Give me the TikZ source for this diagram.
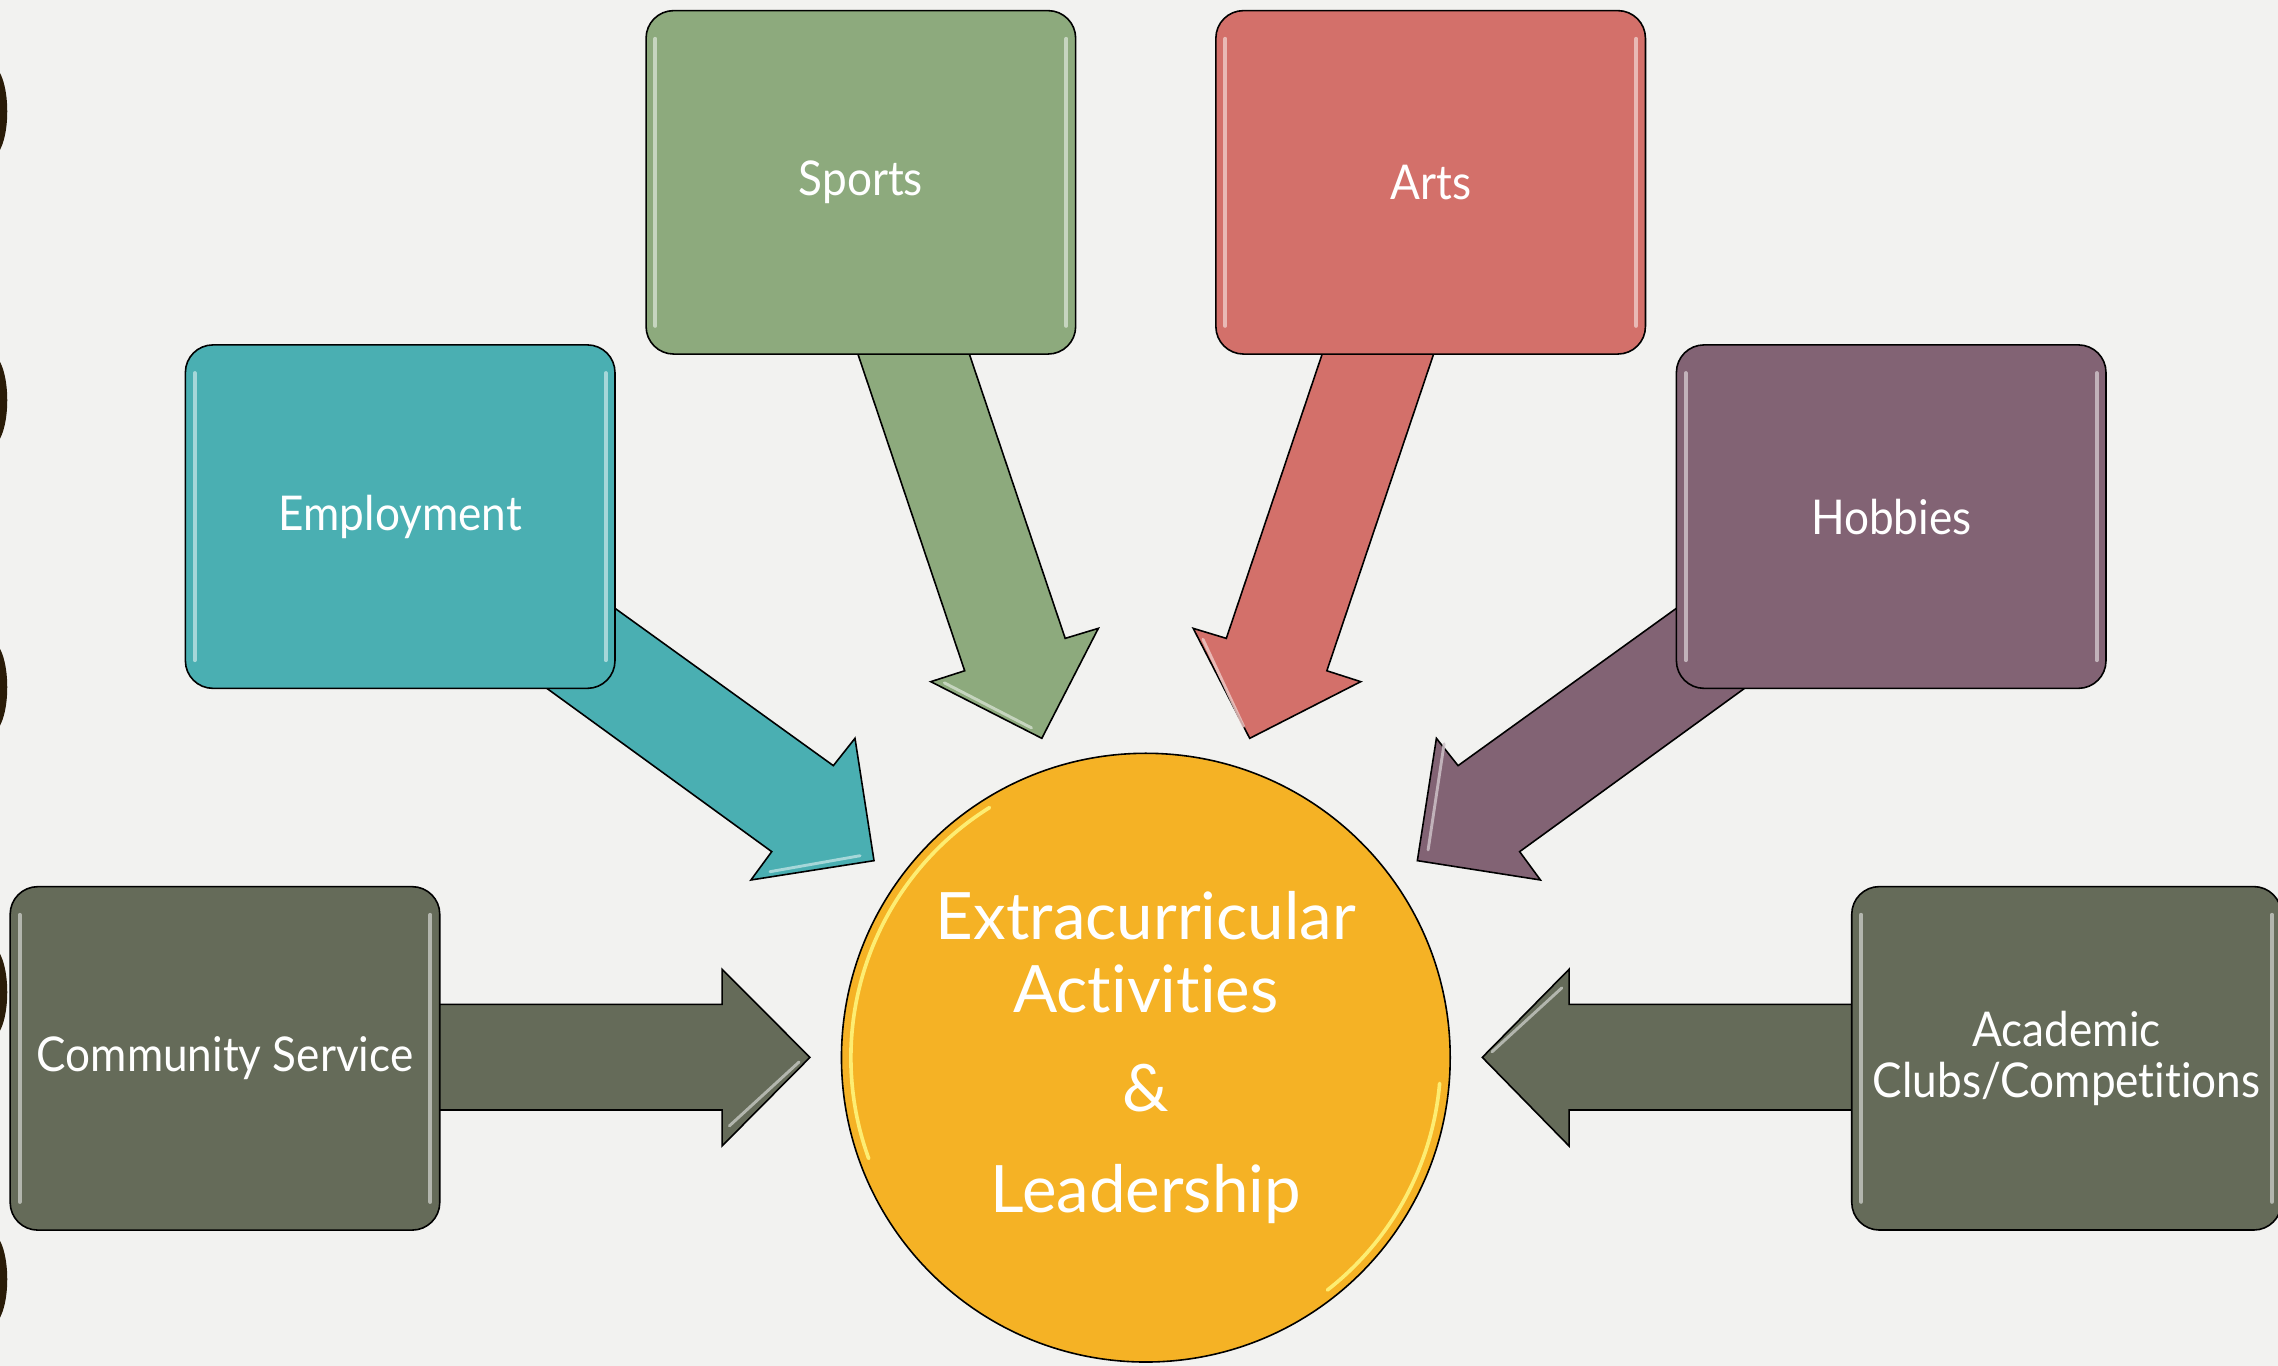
\documentclass[tikz,border=0pt]{standalone}
\usepackage{fontspec}
\setmainfont{Lato}[Ligatures={NoCommon}]
\newfontfamily\boxfont{Lato}[Ligatures={NoCommon}, FakeStretch=0.92]
\definecolor{bg}{HTML}{F2F2F0}
\definecolor{sportsC}{HTML}{8DAA7D}
\definecolor{artsC}{HTML}{D3706A}
\definecolor{employC}{HTML}{4AAFB2}
\definecolor{hobbyC}{HTML}{826374}
\definecolor{olive}{HTML}{656B59}
\definecolor{gold}{HTML}{F5B225}
\definecolor{dotC}{HTML}{2A1C08}
\tikzset{
  box/.style={draw=black, line width=1.1pt, rounded corners=19pt,
    minimum width=295.7pt, minimum height=236.4pt, inner sep=0pt,
    text=white, font=\boxfont\fontsize{33}{35}\selectfont, align=center},
  blockarrow/.style={draw=black, line width=1.1pt, line join=miter},
  gloss/.style={line width=2.8pt, line cap=round, opacity=0.85},
}
\newcommand\glossit[2]{%
  \draw[gloss, #2!40!white] ([xshift=7pt,yshift=-20pt]#1.north west) -- ([xshift=7pt,yshift=20pt]#1.south west);
  \draw[gloss, #2!40!white] ([xshift=-7pt,yshift=-20pt]#1.north east) -- ([xshift=-7pt,yshift=20pt]#1.south east);
}
\begin{document}
\begin{tikzpicture}[x=1pt,y=-1pt]
\useasboundingbox (0,0) rectangle (1568,940);
\fill[bg] (0,0) rectangle (1568,940);
% left edge marks
\foreach \yy in {76.7,275.5,473,683,880.5}
  \fill[dotC] (-6,\yy) ellipse [x radius=11pt, y radius=31.5pt];
% block arrows
\filldraw[blockarrow, fill=sportsC] (585.9,230) -- (664,461.7) -- (640.7,469.2) -- (717.1,508.2) -- (756.0,432.5) -- (733.2,439.4) -- (662.6,230) -- cycle;
\filldraw[blockarrow, fill=artsC] (991.4,230) -- (913.3,461.7) -- (936.6,469.2) -- (860.2,508.2) -- (821.3,432.5) -- (844.1,439.4) -- (914.7,230) -- cycle;
\filldraw[blockarrow, fill=employC] (400,401.9) -- (573.6,527.0) -- (588.5,508.2) -- (601.6,592.4) -- (516.9,605.7) -- (531.2,586.2) -- (357.4,460) -- cycle;
\filldraw[blockarrow, fill=hobbyC] (1177.2,401.9) -- (1003.6,527.0) -- (988.7,508.2) -- (975.6,592.4) -- (1060.3,605.7) -- (1046,586.2) -- (1219.8,460) -- cycle;
\filldraw[blockarrow, fill=olive] (290,691.3) -- (497,691.3) -- (497,667.2) -- (557.5,727.8) -- (497,788.8) -- (497,764) -- (290,764) -- cycle;
\filldraw[blockarrow, fill=olive] (1290,691.3) -- (1080,691.3) -- (1080,667.2) -- (1020.3,727.8) -- (1080,788.8) -- (1080,764) -- (1290,764) -- cycle;
% arrow gloss
\draw[gloss, line width=2pt, sportsC!40!white] (650,470) -- (710,501);
\draw[gloss, line width=2pt, artsC!40!white] (828,440) -- (856,500);
\draw[gloss, line width=2pt, employC!40!white] (530,600) -- (592,589);
\draw[gloss, line width=2pt, hobbyC!40!white] (994,512) -- (983,585);
\draw[gloss, line width=2pt, olive!40!white] (502,775) -- (550,731);
\draw[gloss, line width=2pt, olive!40!white] (1075,680) -- (1027,724);
% boxes
\node[box, fill=sportsC] (sports) at (592.55,125.5) {Sports};
\node[box, fill=artsC] (arts) at (984.75,125.5) {Arts};
\node[box, fill=employC] (employ) at (275.45,355.6) {Employment};
\node[box, fill=hobbyC] (hobby) at (1301.75,355.6) {Hobbies};
\node[box, fill=olive] (community) at (154.85,728.5) {Community Service};
\node[box, fill=olive] (academic) at (1422.45,728.45) {Academic\\Clubs/Competitions};
\glossit{sports}{sportsC}
\glossit{arts}{artsC}
\glossit{employ}{employC}
\glossit{hobby}{hobbyC}
\glossit{community}{olive}
\glossit{academic}{olive}
% centre circle
\node[circle, draw=black, line width=1.1pt, fill=gold, minimum size=419pt, inner sep=0pt,
  text=white, align=center, font=\fontsize{45}{50}\selectfont] (centre) at (788.7,728)
  {Extracurricular\\Activities\\[18pt]\&\\[20pt]Leadership};
\draw[line width=2.5pt, line cap=round, yellow!50!white, opacity=0.85] (centre.center) ++(122:203pt) arc[start angle=122, end angle=200, radius=203pt];
\draw[line width=2.5pt, line cap=round, yellow!50!white, opacity=0.85] (centre.center) ++(-52:203pt) arc[start angle=-52, end angle=-5, radius=203pt];
\end{tikzpicture}
\end{document}
